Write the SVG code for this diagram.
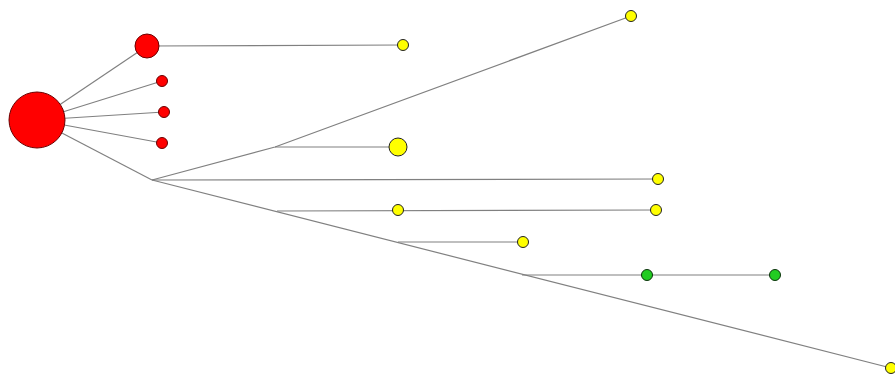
<svg xmlns="http://www.w3.org/2000/svg" width="895" height="378" viewBox="0 0 895 378">
<style>
.e{stroke:#808080;stroke-width:1.2;fill:none}
.r{fill:#ff0000;stroke:#6b0000;stroke-width:1}
.y{fill:#ffff00;stroke:#222;stroke-width:1}
.g{fill:#22cc22;stroke:#0a330a;stroke-width:1}
</style>
<rect width="895" height="378" fill="#ffffff"/>
<g id="connectors">
<line class="e" x1="37" y1="120" x2="147" y2="46"/>
<line class="e" x1="37" y1="120" x2="162" y2="81"/>
<line class="e" x1="37" y1="120" x2="164" y2="112"/>
<line class="e" x1="37" y1="120" x2="162" y2="143"/>
<line class="e" x1="37" y1="120" x2="152" y2="180"/>
<line class="e" x1="147" y1="46" x2="403" y2="45"/>
<polyline class="e" points="152,180 275,147 631,16"/>
<line class="e" x1="275" y1="147" x2="398" y2="147"/>
<line class="e" x1="152" y1="180" x2="658" y2="179"/>
<line class="e" x1="152" y1="180" x2="891" y2="368"/>
<line class="e" x1="277" y1="211" x2="656" y2="210"/>
<line class="e" x1="398" y1="242" x2="523" y2="242"/>
<line class="e" x1="522" y1="275" x2="775" y2="275"/>
</g>
<g id="n0"><circle class="r" cx="37" cy="120" r="28"/></g>
<g id="n1"><circle class="r" cx="147" cy="46" r="12"/></g>
<g id="n2"><circle class="r" cx="162" cy="81" r="5.5"/></g>
<g id="n3"><circle class="r" cx="164" cy="112" r="5.5"/></g>
<g id="n4"><circle class="r" cx="162" cy="143" r="5.5"/></g>
<g id="n5"><circle class="y" cx="403" cy="45" r="5.5"/></g>
<g id="n6"><circle class="y" cx="631" cy="16" r="5.5"/></g>
<g id="n7"><circle class="y" cx="398" cy="147" r="9"/></g>
<g id="n8"><circle class="y" cx="658" cy="179" r="5.5"/></g>
<g id="n9"><circle class="y" cx="398" cy="210" r="5.5"/></g>
<g id="n10"><circle class="y" cx="656" cy="210" r="5.5"/></g>
<g id="n11"><circle class="y" cx="523" cy="242" r="5.5"/></g>
<g id="n12"><circle class="g" cx="647" cy="275" r="5.5"/></g>
<g id="n13"><circle class="g" cx="775" cy="275" r="5.5"/></g>
<g id="n14"><circle class="y" cx="891" cy="368" r="5.5"/></g>
</svg>
